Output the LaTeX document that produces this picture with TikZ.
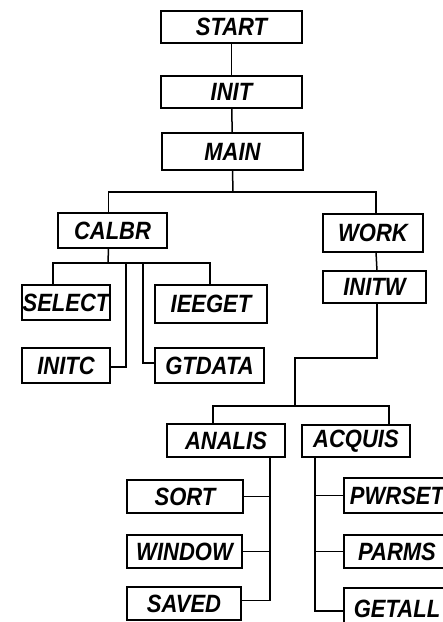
\documentclass[tikz,border=0pt]{standalone}
\usepackage{fontspec}
\newfontfamily\handfont{Liberation Sans}[FakeStretch=0.88]
\usetikzlibrary{calc}
\newcommand\ModBox[6]{% name, left, top, right, bottom, label
    \pgfmathsetmacro\bw{#4-#2}%
    \pgfmathsetmacro\bh{#5-#3}%
    \node[modbox, minimum width=\bw pt, minimum height=\bh pt] (#1)
        at ({(#2+#4)/2},{(#3+#5)/2}) {#6};
}
\tikzset{%
    x=1pt, y=-1pt, % pixel grid, y downwards
    modbox/.style={draw, line width=1.3pt, inner sep=0pt, outer sep=0pt,
        font=\handfont\bfseries\itshape\fontsize{25}{27}\selectfont},%
    link/.style={line width=1.5pt, line join=miter}%
}

\begin{document}
\begin{tikzpicture} % program structure chart

    \clip (0,0) rectangle (443,622);
    \fill[white] (0,0) rectangle (443,622);

    % main chain
    \ModBox{start}{161}{11}{302}{43}{START}
    \ModBox{init}{161}{76}{302}{108}{INIT}
    \ModBox{main}{162}{133}{303}{170}{MAIN}
    \draw[link] (start) -- (init);
    \draw[link] (init) -- (main);

    % first level
    \ModBox{calbr}{58}{213}{167}{248}{CALBR}
    \ModBox{work}{323}{214}{423}{252}{WORK}
    \ModBox{initw}{323}{271}{426}{303}{INITW}
    \coordinate (mainbus) at (233,192);
    \draw[link] (main.south) -- (mainbus);
    \draw[link] ([xshift=-4pt]calbr.north) |- (mainbus) -| ([xshift=3pt]work.north);
    \draw[link] ([xshift=3pt]work.south) -- ([xshift=2.5pt]initw.north);

    % calibration branch
    \ModBox{select}{22}{285}{110}{320}{SELECT}
    \ModBox{ieeget}{155}{285}{267}{323}{IEEGET}
    \ModBox{initc}{22}{348}{110}{383}{INITC}
    \ModBox{gtdata}{155}{348}{264}{383}{GTDATA}
    \coordinate (calbus) at (108,263);
    \coordinate (initcdrop) at (126,263);
    \coordinate (gtdatadrop) at (143,263);
    \draw[link] ([xshift=-4pt]calbr.south) -- (calbus);
    \draw[link] ([xshift=-13pt]select.north) |- (calbus) -| ([xshift=-1pt]ieeget.north);
    \draw[link] (initcdrop) |- ([yshift=-1.5pt]initc.east);
    \draw[link] (gtdatadrop) |- ([yshift=2.5pt]gtdata.west);

    % work branch
    \ModBox{analis}{167}{424}{285}{457}{ANALIS}
    \ModBox{acquis}{302}{425}{410}{457}{ACQUIS}
    \coordinate (workstep) at (295,358);
    \coordinate (workbus) at (295,406);
    \draw[link] ([xshift=2.5pt]initw.south) |- (workstep) -- (workbus);
    \draw[link] ([xshift=-13pt]analis.north) |- (workbus) -| ([xshift=33pt]acquis.north);

    % analysis leaves
    \ModBox{sort}{127}{480}{243}{513}{SORT}
    \ModBox{window}{127}{535}{242}{568}{WINDOW}
    \ModBox{saved}{127}{587}{241}{620}{SAVED}
    \coordinate (analisspine) at (270,457);
    \draw[link] (analisspine) |- ([yshift=3pt]saved.east);
    \draw[link] (sort.east) -- (sort.east -| analisspine);
    \draw[link] (window.east) -- (window.east -| analisspine);

    % acquisition leaves
    \ModBox{pwrset}{344}{478}{450}{513}{PWRSET}
    \ModBox{parms}{344}{535}{450}{568}{PARMS}
    \ModBox{getall}{344}{588}{450}{630}{GETALL}
    \coordinate (acquisspine) at (315,457);
    \draw[link] (acquisspine) |- ([yshift=-2pt]getall.west);
    \draw[link] (pwrset.west) -- (pwrset.west -| acquisspine);
    \draw[link] (parms.west) -- (parms.west -| acquisspine);

\end{tikzpicture}
\end{document}
